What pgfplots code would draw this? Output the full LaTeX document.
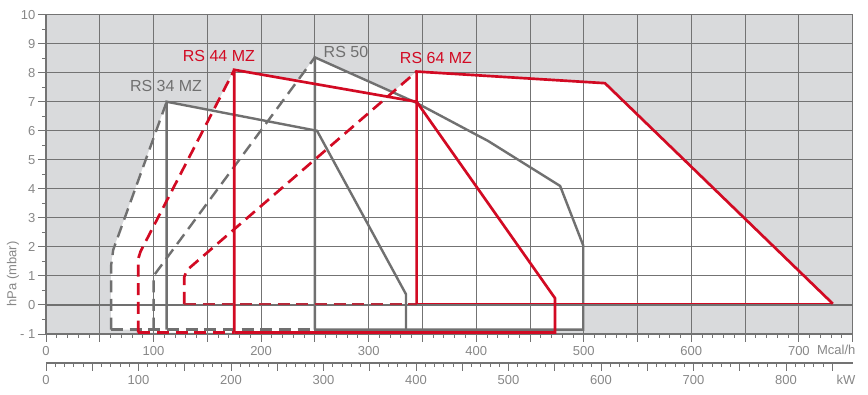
\documentclass[border=0pt]{standalone}
\usepackage{pgfplots}
\pgfplotsset{compat=1.18}
\usepackage{fontspec}
\setmainfont{Liberation Sans}
\definecolor{bg}{RGB}{217,218,220}
\definecolor{gridc}{RGB}{115,115,115}
\definecolor{lgray}{RGB}{112,112,112}
\definecolor{rred}{RGB}{210,10,35}
\definecolor{tickc}{RGB}{135,135,135}
\begin{document}
\begin{tikzpicture}
\useasboundingbox (-34.5pt,-45.75pt) rectangle (616.5pt,250.5pt);
% background axis: gray field with white working areas
\begin{axis}[
  scale only axis, width=605pt, height=239.5pt,
  at={(0pt,0pt)}, anchor=south west,
  xmin=0, xmax=750, ymin=-1, ymax=10,
  xtick=\empty, ytick=\empty,
  axis line style={draw=none},
  axis background/.style={fill=bg},
]
\addplot[fill=white, draw=none] coordinates {(60.5,-0.85) (60.5,1.35) (62.5,1.9) (112.2,7.0) (252,6.0) (334.7,0.37) (334.7,-0.85)} -- cycle;
\addplot[fill=white, draw=none] coordinates {(85.8,-0.95) (85.8,1.6) (88,1.85) (175.1,8.1) (344.6,7.0) (473.3,0.23) (473.3,-0.95)} -- cycle;
\addplot[fill=white, draw=none] coordinates {(100,-0.85) (100,1.0) (250,8.53) (344,6.97) (411,5.65) (478,4.1) (499.5,2.05) (499.5,-0.85)} -- cycle;
\addplot[fill=white, draw=none] coordinates {(128.6,0.04) (128.6,0.97) (131,1.2) (344.6,8.04) (519.7,7.64) (731.6,0.04)} -- cycle;
\end{axis}
% main axis: grid, ticks and curves
\begin{axis}[
  scale only axis, width=605pt, height=239.5pt,
  at={(0pt,0pt)}, anchor=south west,
  xmin=0, xmax=750, ymin=-1, ymax=10,
  xtick={0,50,...,750}, xticklabels={0,,100,,200,,300,,400,,500,,600,,700,},
  minor x tick num=4,
  ytick={-1,0,...,10}, yticklabels={- 1,0,1,2,3,4,5,6,7,8,9,10},
  minor y tick num=1,
  tick align=outside, xtick pos=bottom, ytick pos=left,
  major tick length=6pt, minor tick length=3pt,
  grid=major, grid style={color=gridc, line width=0.7pt},
  axis line style={color=gridc, line width=1pt},
  tick style={color=gridc, line width=0.7pt},
  ticklabel style={font=\fontsize{9.75}{11}\selectfont, text=tickc},
  yticklabel style={xshift=1.5pt},
  /pgf/number format/assume math mode=true,
  clip mode=individual,
  extra y ticks={0}, extra y tick labels={},
  extra y tick style={grid style={color=lgray, line width=1.6pt}},
]
% gray series
\addplot[lgray, line width=1.8pt, dash pattern=on 9pt off 5pt] coordinates {(60.5,-0.85) (60.5,1.35) (62.5,1.9) (112.2,7.0)};
\addplot[lgray, line width=1.8pt, dash pattern=on 9pt off 5pt] coordinates {(60.5,-0.85) (250,-0.85)};
\addplot[lgray, line width=1.8pt] coordinates {(112.2,-0.85) (112.2,7.0) (252,6.0) (334.7,0.37) (334.7,-0.85)};
\addplot[lgray, line width=1.8pt, dash pattern=on 9pt off 5pt] coordinates {(100,-0.85) (100,1.0) (250,8.53)};
\addplot[lgray, line width=1.8pt] coordinates {(250,-0.85) (250,8.53) (344,6.97) (411,5.65) (478,4.1) (499.5,2.05) (499.5,-0.85) (250,-0.85)};

% red series
\addplot[rred, line width=2pt, dash pattern=on 9pt off 5pt] coordinates {(85.8,-0.95) (85.8,1.6) (88,1.85) (175.1,8.1)};
\addplot[rred, line width=2pt, dash pattern=on 9pt off 5pt] coordinates {(85.8,-0.95) (175.1,-0.95)};
\addplot[rred, line width=2pt] coordinates {(175.1,-0.95) (175.1,8.1) (344.6,7.0) (473.3,0.23) (473.3,-0.95) (175.1,-0.95)};
\addplot[rred, line width=2pt, dash pattern=on 9pt off 5pt] coordinates {(128.6,0.04) (128.6,0.97) (131,1.2) (344.6,8.04)};
\addplot[rred!70!lgray, line width=1.2pt, dash pattern=on 9pt off 5pt] coordinates {(128.6,0.04) (344.6,0.04)};
\addplot[rred, line width=2pt] coordinates {(344.6,0.04) (344.6,8.04) (519.7,7.64) (731.6,0.04)};
\addplot[rred, line width=0.8pt] coordinates {(344.6,0.04) (731.6,0.04)};

% labels
\node[text=lgray, font=\fontsize{12}{14}\selectfont] at (axis cs:111.6,7.54) {RS 34 MZ};
\node[text=rred, font=\fontsize{12}{14}\selectfont] at (axis cs:160.8,8.56) {RS 44 MZ};
\node[text=lgray, font=\fontsize{12}{14}\selectfont] at (axis cs:278.9,8.73) {RS 50};
\node[text=rred, font=\fontsize{12}{14}\selectfont] at (axis cs:362.6,8.50) {RS 64 MZ};
\node[rotate=90, text=tickc, font=\fontsize{9.75}{11}\selectfont] at ([xshift=-24.75pt]axis cs:0,1.07) {hPa (mbar)};
\node[text=tickc, font=\fontsize{9.75}{11}\selectfont] at ([yshift=-12pt]axis cs:734.8,-1) {Mcal/h};
\end{axis}
\begin{axis}[
  scale only axis, width=605pt, height=20pt,
  at={(0pt,-21.75pt)}, anchor=south west,
  xmin=0, xmax=872.093, ymin=0, ymax=1,
  axis x line*=bottom, axis y line=none,
  x axis line style={color=gridc, line width=1.6pt, -},
  xtick={0,50,...,850}, xticklabels={0,,100,,200,,300,,400,,500,,600,,700,,800,},
  minor x tick num=4,
  tick align=outside,
  major tick length=6pt, minor tick length=3pt,
  tick style={color=gridc, line width=0.7pt},
  ticklabel style={font=\fontsize{9.75}{11}\selectfont, text=tickc},
  clip mode=individual,
]
\addplot[draw=none] coordinates {(0,0)};
\node[text=tickc, font=\fontsize{9.75}{11}\selectfont] at ([yshift=-12.75pt]axis cs:864.8,0) {kW};
\end{axis}
\end{tikzpicture}
\end{document}
